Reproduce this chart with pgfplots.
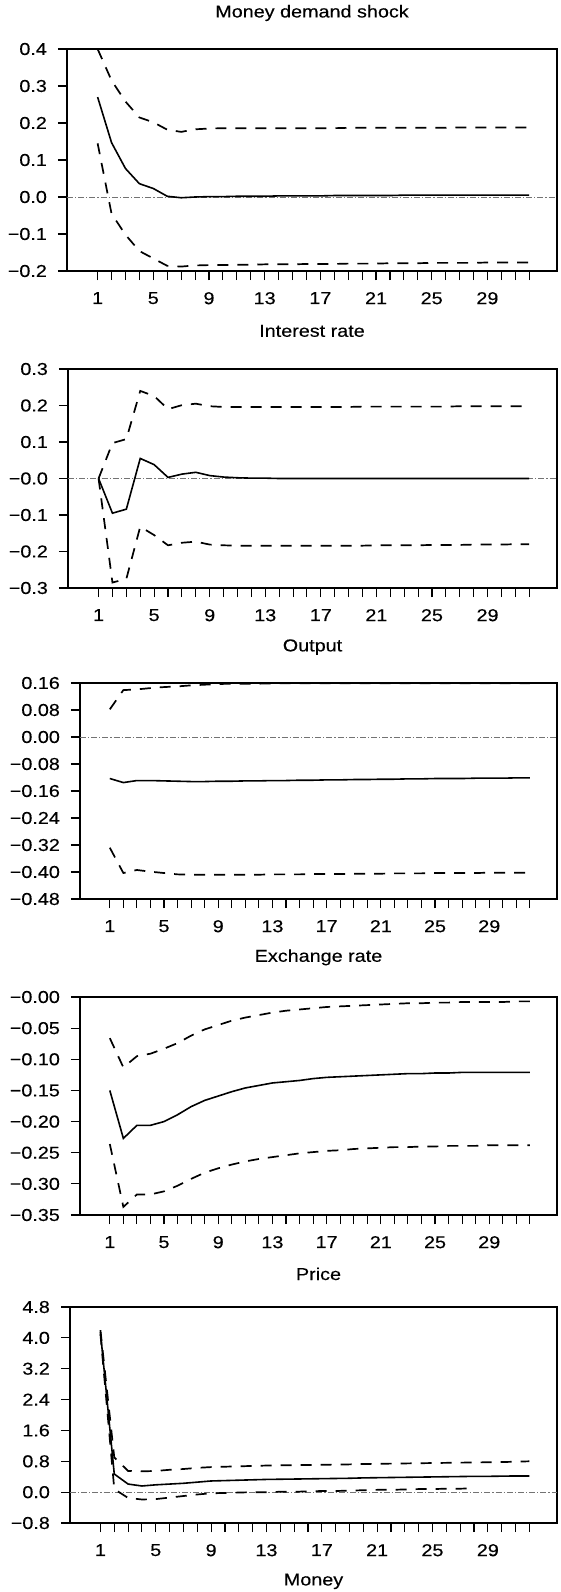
\documentclass[border=0pt]{standalone}
\usepackage{fontspec}
\setmainfont{Liberation Sans}[FakeStretch=1.15,FakeBold=0.3]
\usepackage{pgfplots}
\usepackage{pgfplotstable}
\pgfplotsset{compat=1.18}

\pgfplotstableread{
x m hi lo
1 0.270 0.400 0.145
2 0.147 0.315 -0.045
3 0.077 0.258 -0.102
4 0.036 0.215 -0.146
5 0.023 0.202 -0.166
6 0.002 0.182 -0.186
7 -0.002 0.176 -0.188
8 0.000 0.183 -0.185
9 0.001 0.185 -0.184
10 0.001 0.186 -0.184
11 0.002 0.186 -0.183
12 0.002 0.186 -0.183
13 0.002 0.186 -0.182
14 0.003 0.186 -0.182
15 0.003 0.186 -0.182
16 0.003 0.186 -0.181
17 0.003 0.186 -0.181
18 0.004 0.186 -0.181
19 0.004 0.187 -0.180
20 0.004 0.187 -0.180
21 0.004 0.187 -0.180
22 0.004 0.187 -0.179
23 0.005 0.187 -0.179
24 0.005 0.187 -0.179
25 0.005 0.187 -0.178
26 0.005 0.187 -0.178
27 0.005 0.188 -0.178
28 0.005 0.188 -0.178
29 0.005 0.188 -0.177
30 0.005 0.188 -0.177
31 0.005 0.188 -0.177
32 0.005 0.188 -0.177
}\tabA

\pgfplotstableread{
x m hi lo
1 0.000 0.000 0.000
2 -0.095 0.097 -0.285
3 -0.084 0.108 -0.275
4 0.055 0.240 -0.132
5 0.038 0.226 -0.155
6 0.003 0.190 -0.183
7 0.012 0.201 -0.176
8 0.017 0.205 -0.173
9 0.008 0.198 -0.181
10 0.004 0.196 -0.183
11 0.002 0.196 -0.184
12 0.001 0.196 -0.184
13 0.001 0.196 -0.184
14 0.000 0.196 -0.184
15 0.000 0.196 -0.184
16 0.000 0.196 -0.184
17 0.000 0.196 -0.184
18 0.000 0.196 -0.184
19 0.000 0.196 -0.184
20 0.000 0.197 -0.184
21 0.000 0.197 -0.183
22 0.000 0.197 -0.183
23 0.000 0.197 -0.183
24 0.000 0.197 -0.183
25 0.000 0.197 -0.182
26 0.000 0.197 -0.182
27 0.000 0.198 -0.182
28 0.000 0.198 -0.181
29 0.000 0.198 -0.181
30 0.000 0.198 -0.181
31 0.000 0.198 -0.180
32 0.000 0.198 -0.180
}\tabB

\pgfplotstableread{
x m hi lo
1 -0.123 0.082 -0.328
2 -0.135 0.139 -0.403
3 -0.129 0.141 -0.394
4 -0.129 0.145 -0.399
5 -0.130 0.148 -0.403
6 -0.131 0.150 -0.407
7 -0.132 0.153 -0.408
8 -0.132 0.155 -0.408
9 -0.131 0.157 -0.408
10 -0.131 0.158 -0.408
11 -0.130 0.158 -0.408
12 -0.130 0.158 -0.408
13 -0.129 0.159 -0.407
14 -0.129 0.159 -0.407
15 -0.128 0.159 -0.407
16 -0.128 0.159 -0.406
17 -0.127 0.159 -0.406
18 -0.127 0.159 -0.406
19 -0.126 0.159 -0.405
20 -0.126 0.159 -0.405
21 -0.125 0.159 -0.405
22 -0.125 0.159 -0.404
23 -0.124 0.159 -0.404
24 -0.124 0.159 -0.404
25 -0.123 0.159 -0.403
26 -0.123 0.159 -0.403
27 -0.123 0.159 -0.403
28 -0.122 0.159 -0.403
29 -0.122 0.159 -0.402
30 -0.122 0.159 -0.402
31 -0.121 0.159 -0.402
32 -0.121 0.159 -0.402
}\tabC

\pgfplotstableread{
x m hi lo
1 -0.150 -0.066 -0.236
2 -0.227 -0.113 -0.337
3 -0.206 -0.095 -0.317
4 -0.206 -0.091 -0.317
5 -0.200 -0.083 -0.312
6 -0.189 -0.074 -0.303
7 -0.176 -0.062 -0.292
8 -0.166 -0.052 -0.282
9 -0.159 -0.045 -0.275
10 -0.152 -0.038 -0.269
11 -0.146 -0.033 -0.264
12 -0.142 -0.029 -0.260
13 -0.138 -0.025 -0.257
14 -0.136 -0.022 -0.254
15 -0.134 -0.020 -0.251
16 -0.131 -0.018 -0.249
17 -0.129 -0.016 -0.247
18 -0.128 -0.015 -0.246
19 -0.127 -0.014 -0.244
20 -0.126 -0.013 -0.243
21 -0.125 -0.012 -0.242
22 -0.124 -0.011 -0.241
23 -0.123 -0.010 -0.241
24 -0.123 -0.010 -0.240
25 -0.122 -0.009 -0.240
26 -0.122 -0.009 -0.239
27 -0.121 -0.008 -0.239
28 -0.121 -0.008 -0.239
29 -0.121 -0.008 -0.238
30 -0.121 -0.008 -0.238
31 -0.121 -0.007 -0.238
32 -0.121 -0.007 -0.238
}\tabD

\pgfplotstableread{
x m hi
1 4.15 4.20
2 0.47 0.90
3 0.21 0.55
4 0.16 0.54
5 0.19 0.55
6 0.21 0.58
7 0.23 0.60
8 0.26 0.63
9 0.29 0.65
10 0.30 0.66
11 0.31 0.67
12 0.32 0.68
13 0.33 0.69
14 0.335 0.695
15 0.34 0.70
16 0.345 0.705
17 0.35 0.71
18 0.355 0.715
19 0.36 0.72
20 0.37 0.73
21 0.375 0.735
22 0.38 0.74
23 0.385 0.745
24 0.39 0.75
25 0.395 0.755
26 0.40 0.76
27 0.405 0.765
28 0.41 0.77
29 0.41 0.775
30 0.415 0.78
31 0.42 0.79
32 0.42 0.80
}\tabE

\pgfplotstableread{
x lo
1 4.10
2 0.08
3 -0.15
4 -0.19
5 -0.18
6 -0.14
7 -0.10
8 -0.06
9 -0.03
10 -0.02
11 -0.01
12 0.00
13 0.00
14 0.01
15 0.01
16 0.02
17 0.03
18 0.03
19 0.04
20 0.05
21 0.06
22 0.06
23 0.07
24 0.08
25 0.08
26 0.09
27 0.09
28 0.10
}\tabEl

\pgfplotsset{
  irf/.style={
    scale only axis,
    xmin=-1.2, xmax=34,
    xtick={1,5,...,29},
    xticklabels={1,5,9,13,17,21,25,29},
    minor xtick={1,...,32},
    tick align=outside,
    xtick pos=bottom, ytick pos=left,
    major tick length=4.5pt, minor tick length=4.5pt,
    every tick/.style={black, line width=0.55pt},
    axis line style={line width=0.8pt},
    yticklabel style={xshift=-2.5pt},
    xticklabel style={yshift=-3pt},
    xlabel style={at={(axis description cs:0.5,-0.27)}, anchor=center},
  },
  est/.style={black, line width=0.8pt},
  band/.style={black, line width=0.85pt, dash pattern=on 5.5pt off 4.5pt},
  zero/.style={black!55, line width=0.35pt, dash pattern=on 3pt off 1pt on 0.6pt off 1pt},
}

\begin{document}
\fontsize{8.6}{10}\selectfont
\begin{tikzpicture}
\useasboundingbox (0,0) rectangle (280.5pt,-796pt);

% Panel 1
\begin{axis}[irf, at={(33.5pt,-24.5pt)}, anchor=north west,
  width=245pt, height=111pt,
  ymin=-0.2, ymax=0.4,
  ytick={-0.2,-0.1,0,0.1,0.2,0.3,0.4},
  yticklabels={−0.2,−0.1,0.0,0.1,0.2,0.3,0.4},
  title={Money demand shock},
  title style={at={(axis description cs:0.5,1)}, anchor=center, yshift=12pt},
  xlabel={Interest rate}]
\addplot[zero] coordinates {(-1.2,0) (34,0)};
\addplot[band] table[x=x,y=hi] {\tabA};
\addplot[band] table[x=x,y=lo] {\tabA};
\addplot[est] table[x=x,y=m] {\tabA};
\end{axis}

% Panel 2
\begin{axis}[irf, at={(34pt,-184.5pt)}, anchor=north west,
  width=244.5pt, height=109.5pt,
  ymin=-0.3, ymax=0.3,
  ytick={-0.3,-0.2,-0.1,0,0.1,0.2,0.3},
  yticklabels={−0.3,−0.2,−0.1,−0.0,0.1,0.2,0.3},
  xlabel={Output}]
\addplot[zero] coordinates {(-1.2,0) (34,0)};
\addplot[band] table[x=x,y=hi] {\tabB};
\addplot[band] table[x=x,y=lo] {\tabB};
\addplot[est] table[x=x,y=m] {\tabB};
\end{axis}

% Panel 3
\begin{axis}[irf, at={(40pt,-341.5pt)}, anchor=north west,
  width=238.5pt, height=108pt,
  ymin=-0.48, ymax=0.16,
  ytick={-0.48,-0.40,-0.32,-0.24,-0.16,-0.08,0,0.08,0.16},
  yticklabels={−0.48,−0.40,−0.32,−0.24,−0.16,−0.08,0.00,0.08,0.16},
  xlabel={Exchange rate}]
\addplot[zero] coordinates {(-1.2,0) (34,0)};
\addplot[band] table[x=x,y=hi] {\tabC};
\addplot[band] table[x=x,y=lo] {\tabC};
\addplot[est] table[x=x,y=m] {\tabC};
\end{axis}

% Panel 4
\begin{axis}[irf, at={(40pt,-498.5pt)}, anchor=north west,
  width=238.5pt, height=109pt,
  ymin=-0.35, ymax=0,
  ytick={-0.35,-0.30,-0.25,-0.20,-0.15,-0.10,-0.05,0},
  yticklabels={−0.35,−0.30,−0.25,−0.20,−0.15,−0.10,−0.05,−0.00},
  xlabel={Price}]
\addplot[band] table[x=x,y=hi] {\tabD};
\addplot[band] table[x=x,y=lo] {\tabD};
\addplot[est] table[x=x,y=m] {\tabD};
\end{axis}

% Panel 5
\begin{axis}[irf, at={(35pt,-653.5pt)}, anchor=north west,
  width=243.5pt, height=108pt,
  ymin=-0.8, ymax=4.8,
  ytick={-0.8,0,0.8,1.6,2.4,3.2,4.0,4.8},
  yticklabels={−0.8,0.0,0.8,1.6,2.4,3.2,4.0,4.8},
  xlabel={Money}]
\addplot[zero] coordinates {(-1.2,0) (34,0)};
\addplot[band] table[x=x,y=hi] {\tabE};
\addplot[band] table[x=x,y=lo] {\tabEl};
\addplot[est] table[x=x,y=m] {\tabE};
\end{axis}
\end{tikzpicture}
\end{document}
